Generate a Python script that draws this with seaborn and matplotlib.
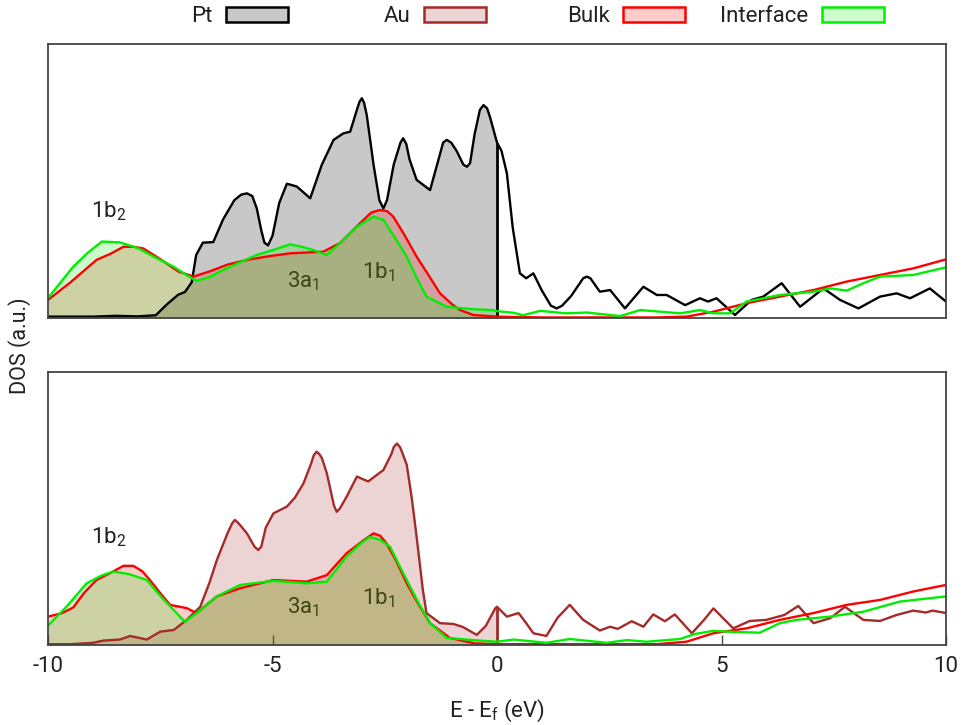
import numpy as np
import pandas as pd
import matplotlib
matplotlib.use("Agg")
import matplotlib.pyplot as plt
from matplotlib.patches import Patch
import seaborn as sns

# ---------------- data ----------------
pt_E = [-10, -9.0, -8.5, -8.0, -7.6, -7.35, -7.1, -6.95, -6.8, -6.7, -6.55, -6.32, -6.1, -5.85, -5.7, -5.57,
        -5.45, -5.35, -5.25, -5.18, -5.1, -5.0, -4.85, -4.68, -4.46, -4.16, -3.9, -3.64, -3.42, -3.27, -3.12,
        -3.06, -3.01, -2.96, -2.9, -2.75, -2.62, -2.53, -2.45, -2.3, -2.15, -2.09, -2.02, -1.95, -1.79,
        -1.49, -1.3, -1.2, -1.12, -1.02, -0.9, -0.75, -0.67, -0.6, -0.5, -0.38, -0.30, -0.22, -0.15,
        0.0, 0.1, 0.22, 0.35, 0.51, 0.65, 0.81, 1.0, 1.2, 1.33, 1.45, 1.65, 1.92, 2.0, 2.08, 2.29, 2.52,
        2.85, 3.26, 3.56, 3.78, 4.19, 4.52, 4.7, 4.89, 5.3, 5.67, 5.93, 6.34, 6.75, 7.27, 7.64, 8.05,
        8.53, 8.9, 9.2, 9.64, 10.0]
pt_dos = [0.05, 0.05, 0.08, 0.06, 0.1, 0.5, 0.85, 0.95, 1.3, 2.3, 2.75, 2.77, 3.6, 4.3, 4.5, 4.55,
          4.45, 4.0, 3.2, 2.75, 2.65, 3.0, 4.2, 4.9, 4.8, 4.37, 5.6, 6.5, 6.74, 6.8, 7.6,
          7.9, 8.02, 7.85, 7.4, 5.6, 4.3, 4.0, 4.3, 5.6, 6.4, 6.56, 6.35, 5.8, 5.04,
          4.67, 5.8, 6.4, 6.5, 6.4, 6.1, 5.6, 5.52, 5.65, 6.7, 7.6, 7.77, 7.65, 7.3,
          6.4, 6.1, 5.28, 3.3, 1.63, 1.45, 1.63, 1.0, 0.45, 0.35, 0.45, 0.8, 1.45, 1.51, 1.45, 0.96, 1.02,
          0.35, 1.14, 0.84, 0.84, 0.47, 0.72, 0.6, 0.72, 0.11, 0.66, 0.78, 1.27, 0.41, 1.08, 0.66, 0.35,
          0.78, 0.9, 0.72, 1.08, 0.6]

bulk_pt_E = [-10, -9.5, -8.92, -8.6, -8.32, -8.1, -7.88, -7.5, -7.1, -6.76, -6.4, -6.0, -5.57, -5.1,
             -4.61, -3.87, -3.5, -3.05, -2.8, -2.61, -2.45, -2.31, -2.05, -1.79, -1.5, -1.27, -1.0,
             -0.82, -0.53, 0.0, 1.0, 2.0, 3.0, 3.56, 4.22, 4.82, 5.56, 6.3, 7.05, 7.79, 8.53, 9.27, 10]
bulk_pt_dos = [0.66, 1.3, 2.12, 2.35, 2.6, 2.6, 2.54, 2.15, 1.7, 1.51, 1.7, 1.95, 2.12, 2.25,
               2.36, 2.42, 2.73, 3.46, 3.85, 3.94, 3.9, 3.70, 3.0, 2.24, 1.5, 0.9, 0.5,
               0.29, 0.11, 0.05, 0.02, 0.02, 0.02, 0.02, 0.05, 0.23, 0.54, 0.78, 1.02, 1.33, 1.57, 1.81, 2.14]

intf_pt_E = [-10, -9.44, -9.1, -8.8, -8.4, -8.0, -7.6, -7.2, -6.9, -6.69, -6.4, -6.1, -5.7, -5.35,
             -4.95, -4.61, -4.35, -4.09, -3.79, -3.5, -3.12, -2.75, -2.53, -2.3, -2.01, -1.8, -1.57,
             -1.12, -0.53, -0.1, 0.0, 0.37, 0.58, 0.96, 1.55, 2.0, 2.74, 3.19, 4.08, 4.52, 4.82, 5.19,
             5.56, 6.3, 7.05, 7.42, 7.79, 8.16, 8.53, 9.27, 10]
intf_pt_dos = [0.73, 1.87, 2.4, 2.79, 2.76, 2.55, 2.2, 1.87, 1.55, 1.35, 1.5, 1.75, 2.05, 2.3,
               2.5, 2.69, 2.6, 2.48, 2.3, 2.73, 3.33, 3.70, 3.58, 3.0, 2.24, 1.5, 0.78,
               0.41, 0.32, 0.29, 0.25, 0.19, 0.1, 0.26, 0.17, 0.2, 0.07, 0.29, 0.17, 0.29, 0.17, 0.17,
               0.6, 0.84, 0.96, 1.08, 1.0, 1.27, 1.51, 1.57, 1.85]

au_E = [-10, -9.5, -9.0, -8.77, -8.4, -8.17, -7.8, -7.5, -7.2, -6.91, -6.61, -6.4, -6.24, -6.0, -5.9,
        -5.84, -5.78, -5.7, -5.57, -5.4, -5.32, -5.25, -5.15, -4.98, -4.68, -4.5, -4.31, -4.15, -4.08,
        -4.02, -3.96, -3.9, -3.79, -3.63, -3.57, -3.5, -3.35, -3.12, -2.87, -2.7, -2.53, -2.35, -2.3,
        -2.23, -2.16, -2.1, -2.01, -1.9, -1.79, -1.65, -1.57, -1.27, -0.97, -0.76, -0.45, -0.25, -0.04,
        0.0, 0.22, 0.48, 0.65, 0.81, 1.1, 1.35, 1.62, 1.92, 2.29, 2.52, 2.69, 3.0, 3.26, 3.48, 3.74,
        3.96, 4.34, 4.6, 4.82, 5.26, 5.63, 6.0, 6.4, 6.71, 7.05, 7.42, 7.75, 8.16, 8.53, 8.9, 9.27,
        9.55, 9.7, 10]
au_dos = [0.03, 0.03, 0.08, 0.16, 0.2, 0.33, 0.2, 0.49, 0.55, 0.92, 1.4, 2.3, 3.11, 4.1, 4.45,
          4.58, 4.5, 4.35, 4.09, 3.6, 3.48, 3.6, 4.3, 4.82, 5.07, 5.4, 5.92, 6.6, 6.95,
          7.08, 7.0, 6.85, 6.29, 5.1, 4.88, 5.0, 5.43, 6.17, 5.99, 6.2, 6.41, 7.0, 7.25,
          7.38, 7.25, 7.0, 6.6, 5.4, 3.96, 2.0, 1.17, 0.8, 0.77, 0.66, 0.37, 0.7, 1.34,
          1.4, 1.04, 1.17, 0.8, 0.43, 0.33, 1.0, 1.47, 0.92, 0.53, 0.67, 0.59, 0.87, 0.67, 1.12, 0.87,
          1.12, 0.43, 0.9, 1.34, 0.61, 0.88, 0.92, 1.1, 1.43, 0.8, 0.98, 1.4, 0.92, 0.88, 1.1, 1.26,
          1.19, 1.26, 1.17]

bulk_au_E = [-10, -9.7, -9.44, -9.2, -8.92, -8.6, -8.32, -8.1, -7.9, -7.73, -7.5, -7.28, -6.91, -6.69,
             -6.45, -6.24, -5.72, -4.98, -4.24, -3.79, -3.55, -3.35, -3.0, -2.75, -2.6, -2.46, -2.25,
             -2.01, -1.75, -1.49, -1.05, -0.5, 0.0, 3.56, 4.22, 4.82, 5.56, 6.3, 7.05, 7.79, 8.53, 9.27, 10]
bulk_au_dos = [1.04, 1.16, 1.37, 1.9, 2.38, 2.65, 2.9, 2.9, 2.7, 2.38, 1.9, 1.47, 1.35, 1.17,
               1.5, 1.78, 2.08, 2.38, 2.32, 2.56, 3.0, 3.36, 3.8, 4.09, 4.0, 3.72, 3.1,
               2.26, 1.5, 0.8, 0.26, 0.06, 0.03, 0.03, 0.12, 0.43, 0.61, 0.92, 1.17, 1.47, 1.65, 1.96, 2.2]

intf_au_E = [-10, -9.59, -9.14, -8.8, -8.55, -8.2, -7.8, -7.5, -7.2, -6.95, -6.69, -6.24, -5.72, -4.98,
             -4.24, -3.79, -3.35, -3.05, -2.83, -2.6, -2.38, -2.2, -2.01, -1.75, -1.49, -1.12, -0.53,
             -0.1, 0.0, 0.37, 1.1, 1.62, 2.44, 2.9, 3.33, 4.08, 4.4, 4.82, 5.26, 5.85, 6.3, 6.67, 7.42,
             8.16, 8.97, 10]
intf_au_dos = [0.71, 1.4, 2.26, 2.55, 2.69, 2.6, 2.38, 1.8, 1.28, 0.85, 1.17, 1.78, 2.2, 2.35,
               2.26, 2.32, 3.24, 3.7, 3.96, 3.85, 3.6, 3.0, 2.38, 1.55, 0.8, 0.26, 0.18,
               0.13, 0.12, 0.2, 0.08, 0.22, 0.08, 0.18, 0.12, 0.22, 0.4, 0.52, 0.48, 0.45, 0.8, 0.92, 1.04,
               1.22, 1.59, 1.78]

legend_labels = ["Pt", "Au", "Bulk", "Interface"]
peak_labels = ["1b$_2$", "3a$_1$", "1b$_1$"]
peak_E = [-8.64, -4.32, -2.65]
peak_y_top = [3.88, 1.35, 1.66]
peak_y_bot = [3.95, 1.4, 1.72]

# ---------------- style ----------------
sns.set_theme(style="white")
plt.rcParams['font.family'] = ['Roboto', 'DejaVu Sans']
plt.rcParams['mathtext.default'] = 'regular'
TXT = "#222222"
SPINE = "#444444"
FS = 16

C_PT = "black"
F_PT = "#c8c8c8"
C_AU = "#a52a2a"
C_BULK = "#ff0000"
C_INTF = "#00ee00"

W, H = 966, 725
fig = plt.figure(figsize=(W / 100, H / 100), dpi=100)
ax_top = fig.add_axes([48 / W, 1 - 318 / H, (946 - 48) / W, (318 - 44) / H])
ax_bot = fig.add_axes([48 / W, 1 - 645 / H, (946 - 48) / W, (645 - 372) / H])

LW = 1.7


def draw_panel(ax, metal_E, metal_dos, metal_line, metal_fill, metal_alpha,
               bulk_E, bulk_dos, intf_E, intf_dos, ys):
    mE, mD = np.array(metal_E), np.array(metal_dos)
    bE, bD = np.array(bulk_E), np.array(bulk_dos)
    iE, iD = np.array(intf_E), np.array(intf_dos)
    # occupied-state fills
    ax.fill_between(mE, 0, mD, where=mE <= 0, color=metal_fill, alpha=metal_alpha, lw=0, zorder=1)
    ax.fill_between(bE, 0, bD, where=bE <= 0, color=C_BULK, alpha=0.2, lw=0, zorder=1.1)
    ax.fill_between(iE, 0, iD, where=iE <= 0, color=C_INTF, alpha=0.2, lw=0, zorder=1.2)
    # lines
    kw = dict(estimator=None, sort=False, solid_joinstyle="round", solid_capstyle="round")
    sns.lineplot(x=mE, y=mD, ax=ax, color=metal_line, lw=LW, zorder=2, **kw)
    sns.lineplot(x=bE, y=bD, ax=ax, color=C_BULK, lw=LW, zorder=2.1, **kw)
    sns.lineplot(x=iE, y=iD, ax=ax, color=C_INTF, lw=LW, zorder=2.2, **kw)
    # Fermi-level edge of the metal fill
    ax.vlines(0, 0, np.interp(0, mE, mD), color=metal_line, lw=LW + 0.3, zorder=2)
    # peak labels
    for i, (lab, e, y) in enumerate(zip(peak_labels, peak_E, ys)):
        ax.text(e, y, lab, ha="center", va="center", fontsize=FS, color=TXT,
                zorder=3 if i == 0 else 1.05)
    ax.set_xlim(-10, 10)
    ax.set_ylim(0, 10)
    ax.set_yticks([])
    ax.set_ylabel("")
    ax.set_xlabel("")
    for s in ax.spines.values():
        s.set_color(SPINE)
        s.set_linewidth(1.3)
        s.set_zorder(4)


draw_panel(ax_top, pt_E, pt_dos, C_PT, F_PT, 1.0,
           bulk_pt_E, bulk_pt_dos, intf_pt_E, intf_pt_dos, peak_y_top)
draw_panel(ax_bot, au_E, au_dos, C_AU, C_AU, 0.2,
           bulk_au_E, bulk_au_dos, intf_au_E, intf_au_dos, peak_y_bot)

ax_top.set_xticks([])
ax_bot.set_xticks([-10, -5, 0, 5, 10])
ax_bot.set_xticklabels(["-10", "-5", "0", "5", "10"])
ax_bot.tick_params(axis="x", direction="in", length=7, width=1.0, color=SPINE,
                   labelsize=FS, labelcolor=TXT, pad=8, bottom=True, top=False)
ax_bot.set_xlabel("E - E$_f$ (eV)", fontsize=FS, color=TXT, labelpad=15)

fig.text(20 / W, 1 - 346 / H, "DOS (a.u.)", rotation=90, ha="center", va="center",
         fontsize=15.5, color=TXT)

# legend (gnuplot style: text then sample box, right aligned columns)
leg_faces = [F_PT, (0.647, 0.165, 0.165, 0.2), (1, 0, 0, 0.2), (0, 0.93, 0, 0.2)]
leg_edges = [C_PT, C_AU, C_BULK, C_INTF]
leg_right = [288, 486, 685, 884]
for lab, fc, ec, xr in zip(legend_labels, leg_faces, leg_edges, leg_right):
    fig.legend(handles=[Patch(facecolor=fc, edgecolor=ec, linewidth=1.8)], labels=[lab],
               loc="center right", bbox_to_anchor=(xr / W, 1 - 17 / H), frameon=False,
               markerfirst=False, handlelength=2.8, handleheight=0.68, handletextpad=0.59,
               borderpad=0, borderaxespad=0, fontsize=FS, labelcolor=TXT)

fig.savefig("out.png", dpi=100)
